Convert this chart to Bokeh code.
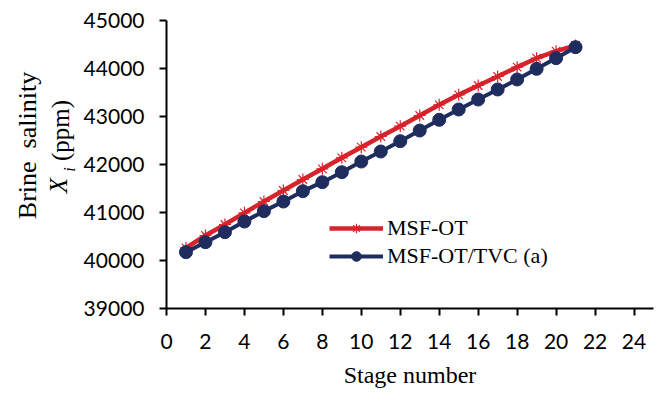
import math
from bokeh.plotting import figure
from bokeh.layouts import row
from bokeh.models import FixedTicker, Range1d, Legend
from bokeh.core.properties import value
from bokeh.embed import file_html
from bokeh.resources import INLINE

stages = list(range(1, 22))
msf_ot = [40264, 40521, 40750, 40993, 41229, 41458, 41688, 41910, 42139, 42361,
          42583, 42798, 43021, 43243, 43451, 43646, 43833, 44028, 44215, 44361, 44479]
msf_ot_tvc = [40174, 40382, 40590, 40812, 41028, 41229, 41444, 41632, 41840, 42062,
              42271, 42486, 42708, 42931, 43146, 43354, 43563, 43771, 43993, 44215, 44444]
x_ticks = list(range(0, 25, 2))
y_ticks = list(range(39000, 45001, 1000))

RED = "#D7232B"
NAVY = "#1F2C5E"
SERIF = "Liberation Serif"
SANS = "Lato"

W, H = 659, 394
LW = 80  # width of the side panel holding the y-axis title
TOP, BOTTOM = 20, 86

p = figure(width=W - LW, height=H, output_backend="svg", toolbar_location=None,
           x_range=Range1d(0, 25), y_range=Range1d(39000, 45000),
           min_border_left=165 - LW, min_border_right=6, min_border_top=TOP, min_border_bottom=BOTTOM)
p.outline_line_color = None
p.xgrid.visible = False
p.ygrid.visible = False

r1 = p.line(stages, msf_ot, line_color=RED, line_width=4.5)
r2 = p.scatter(stages, msf_ot, marker="asterisk", size=12, line_color=RED, line_width=1.2)
r3 = p.line(stages, msf_ot_tvc, line_color=NAVY, line_width=4)
r4 = p.scatter(stages, msf_ot_tvc, marker="circle", size=13, fill_color=NAVY, line_color=NAVY)

legend = Legend(items=[("MSF-OT", [r1, r2]), ("MSF-OT/TVC (a)", [r3, r4])],
                location=(163, 39))
legend.padding = 0
legend.margin = 0
legend.spacing = 2
legend.glyph_width = 54
legend.glyph_height = 24
legend.label_height = 24
legend.label_standoff = 4
legend.border_line_color = None
legend.background_fill_alpha = 0
legend.label_text_font = SERIF
legend.label_text_font_size = "22px"
legend.label_text_color = "black"
p.add_layout(legend, "center")

for ax in (p.xaxis[0], p.yaxis[0]):
    ax.axis_line_color = "black"
    ax.axis_line_width = 2
    ax.major_tick_line_color = "black"
    ax.major_tick_line_width = 2
    ax.major_tick_in = 0
    ax.major_tick_out = 7
    ax.minor_tick_line_color = None
    ax.major_label_text_font = SANS
    ax.major_label_text_font_size = "21px"
    ax.major_label_text_color = "black"

p.xaxis[0].ticker = FixedTicker(ticks=x_ticks)
p.yaxis[0].ticker = FixedTicker(ticks=y_ticks)
p.xaxis[0].major_label_standoff = 18
p.yaxis[0].major_label_standoff = 15

p.xaxis[0].axis_label = "Stage number"
p.xaxis[0].axis_label_text_font = SERIF
p.xaxis[0].axis_label_text_font_size = "24px"
p.xaxis[0].axis_label_text_font_style = "normal"
p.xaxis[0].axis_label_text_color = "black"
p.xaxis[0].axis_label_standoff = 10

# side panel with the y-axis title; its frame is aligned with the main frame by the row,
# so its y range is chosen so that y = H - (pixel row of the page)
t = figure(width=LW, height=H, output_backend="svg", toolbar_location=None, title=None,
           x_range=Range1d(0, LW), y_range=Range1d(BOTTOM, H - TOP),
           x_axis_type=None, y_axis_type=None, min_border=0)
t.outline_line_color = None
t.xgrid.visible = False
t.ygrid.visible = False
ang = math.pi / 2
kw = dict(angle=ang, text_align="center", text_baseline="middle",
          text_color="black", text_font=value(SERIF))
t.text(x=[27], y=[H - 145], text=["Brine\u00a0 salinity"], text_font_size="26px", **kw)
t.text(x=[58], y=[H - 185], text=["X"], text_font_size="25px", text_font_style="italic", **kw)
t.text(x=[69], y=[H - 169], text=["i"], text_font_size="16px", text_font_style="italic", **kw)
t.text(x=[60], y=[H - 130], text=["(ppm)"], text_font_size="25px", **kw)

layout = row(t, p, spacing=0)
open("out.html", "w").write(file_html(layout, INLINE))
